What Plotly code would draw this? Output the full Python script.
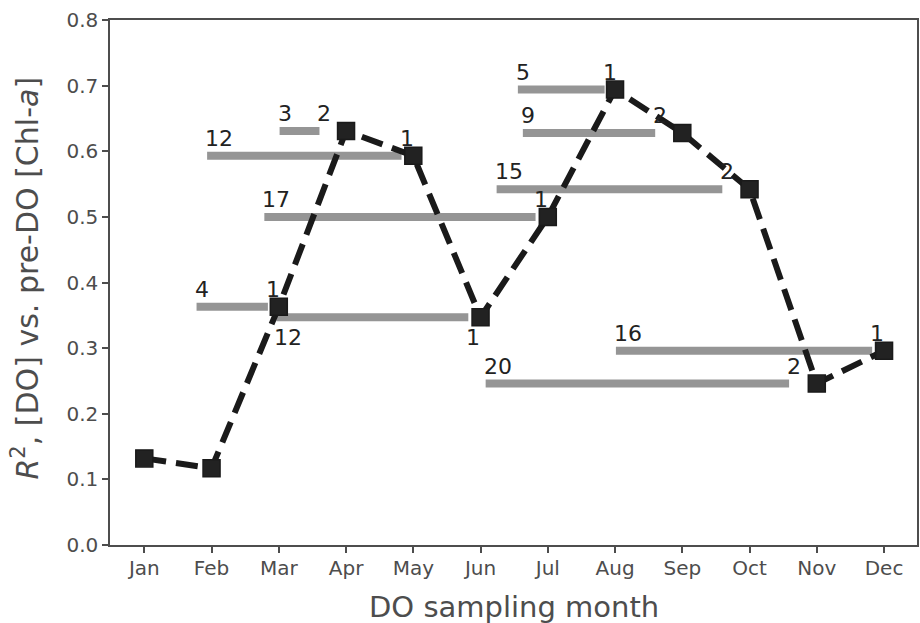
import plotly.graph_objects as go

months = ["Jan", "Feb", "Mar", "Apr", "May", "Jun", "Jul", "Aug", "Sep", "Oct", "Nov", "Dec"]
month_pos = [1, 2, 3, 4, 5, 6, 7, 8, 9, 10, 11, 12]
r2 = [0.132, 0.117, 0.363, 0.631, 0.593, 0.347, 0.500, 0.694, 0.628, 0.542, 0.246, 0.296]

# lag windows (drawn extent in month units) for Mar..Dec
bar_month = [3, 4, 5, 6, 7, 8, 9, 10, 11, 12]
bar_start = [1.777, 3.012, 1.934, 2.963, 2.785, 6.555, 6.629, 6.239, 6.076, 8.013]
bar_end = [2.838, 3.605, 4.825, 5.818, 6.818, 7.845, 8.597, 9.595, 10.588, 11.823]
lag_first = ["4", "3", "12", "12", "17", "5", "9", "15", "20", "16"]
lag_last = ["1", "2", "1", "1", "1", "1", "2", "2", "2", "1"]
label_below = [False, False, False, True, False, False, False, False, False, False]

FONT = "DejaVu Sans"
AX = "#4d4d4d"

fig = go.Figure()

for i, m in enumerate(bar_month):
    yv = r2[m - 1]
    fig.add_trace(go.Scatter(
        x=[bar_start[i], bar_end[i]], y=[yv, yv], mode="lines",
        line=dict(color="#959595", width=8), hoverinfo="skip", showlegend=False))

fig.add_trace(go.Scatter(
    x=month_pos, y=r2, mode="lines+markers",
    line=dict(color="#1a1a1a", width=6, dash="22px,10px"),
    marker=dict(symbol="square", size=17, color="#222222",
                line=dict(color="#1a1a1a", width=1.5)),
    showlegend=False))

ann = []
for i, m in enumerate(bar_month):
    yv = r2[m - 1]
    below = label_below[i]
    for xv, txt in ((bar_start[i], lag_first[i]), (bar_end[i], lag_last[i])):
        ann.append(dict(
            x=xv, y=yv, xref="x", yref="y", text=txt, showarrow=False,
            xanchor="left", yanchor="top" if below else "bottom",
            xshift=-4, yshift=-6 if below else 3,
            font=dict(family=FONT, size=22, color="#222222")))

ann.append(dict(
    x=0.5, y=0, xref="paper", yref="paper", text="DO sampling month",
    showarrow=False, xanchor="center", yanchor="top", yshift=-43,
    font=dict(family=FONT, size=29, color=AX)))
ann.append(dict(
    x=0, y=(545 - 482) / 525, xref="paper", yref="paper",
    text="<i>R</i><sup>2</sup>, [DO] vs. pre-DO [Chl-<i>a</i>]",
    showarrow=False, textangle=-90, xanchor="center", yanchor="bottom",
    xshift=-84, font=dict(family=FONT, size=30, color=AX)))

fig.update_layout(
    width=920, height=623,
    margin=dict(l=110, r=1, t=20, b=78),
    paper_bgcolor="white", plot_bgcolor="white",
    font=dict(family=FONT, color=AX),
    annotations=ann,
    xaxis=dict(range=[0.49, 12.49], tickvals=month_pos, ticktext=months,
               showgrid=False, zeroline=False, showline=True, mirror=True,
               linecolor=AX, linewidth=1.5, ticks="outside", ticklen=6,
               tickwidth=1.5, tickcolor=AX, ticklabelstandoff=-2,
               tickfont=dict(family=FONT, size=20, color=AX)),
    yaxis=dict(range=[0, 0.8], dtick=0.1, tickformat=".1f",
               showgrid=False, zeroline=False, showline=True, mirror=True,
               linecolor=AX, linewidth=1.5, ticks="outside", ticklen=6,
               tickwidth=1.5, tickcolor=AX,
               tickfont=dict(family=FONT, size=20, color=AX)),
)

fig.write_html("out.html", config={"displayModeBar": False},
               post_script="document.body.style.margin='0';document.body.style.overflow='hidden';")
